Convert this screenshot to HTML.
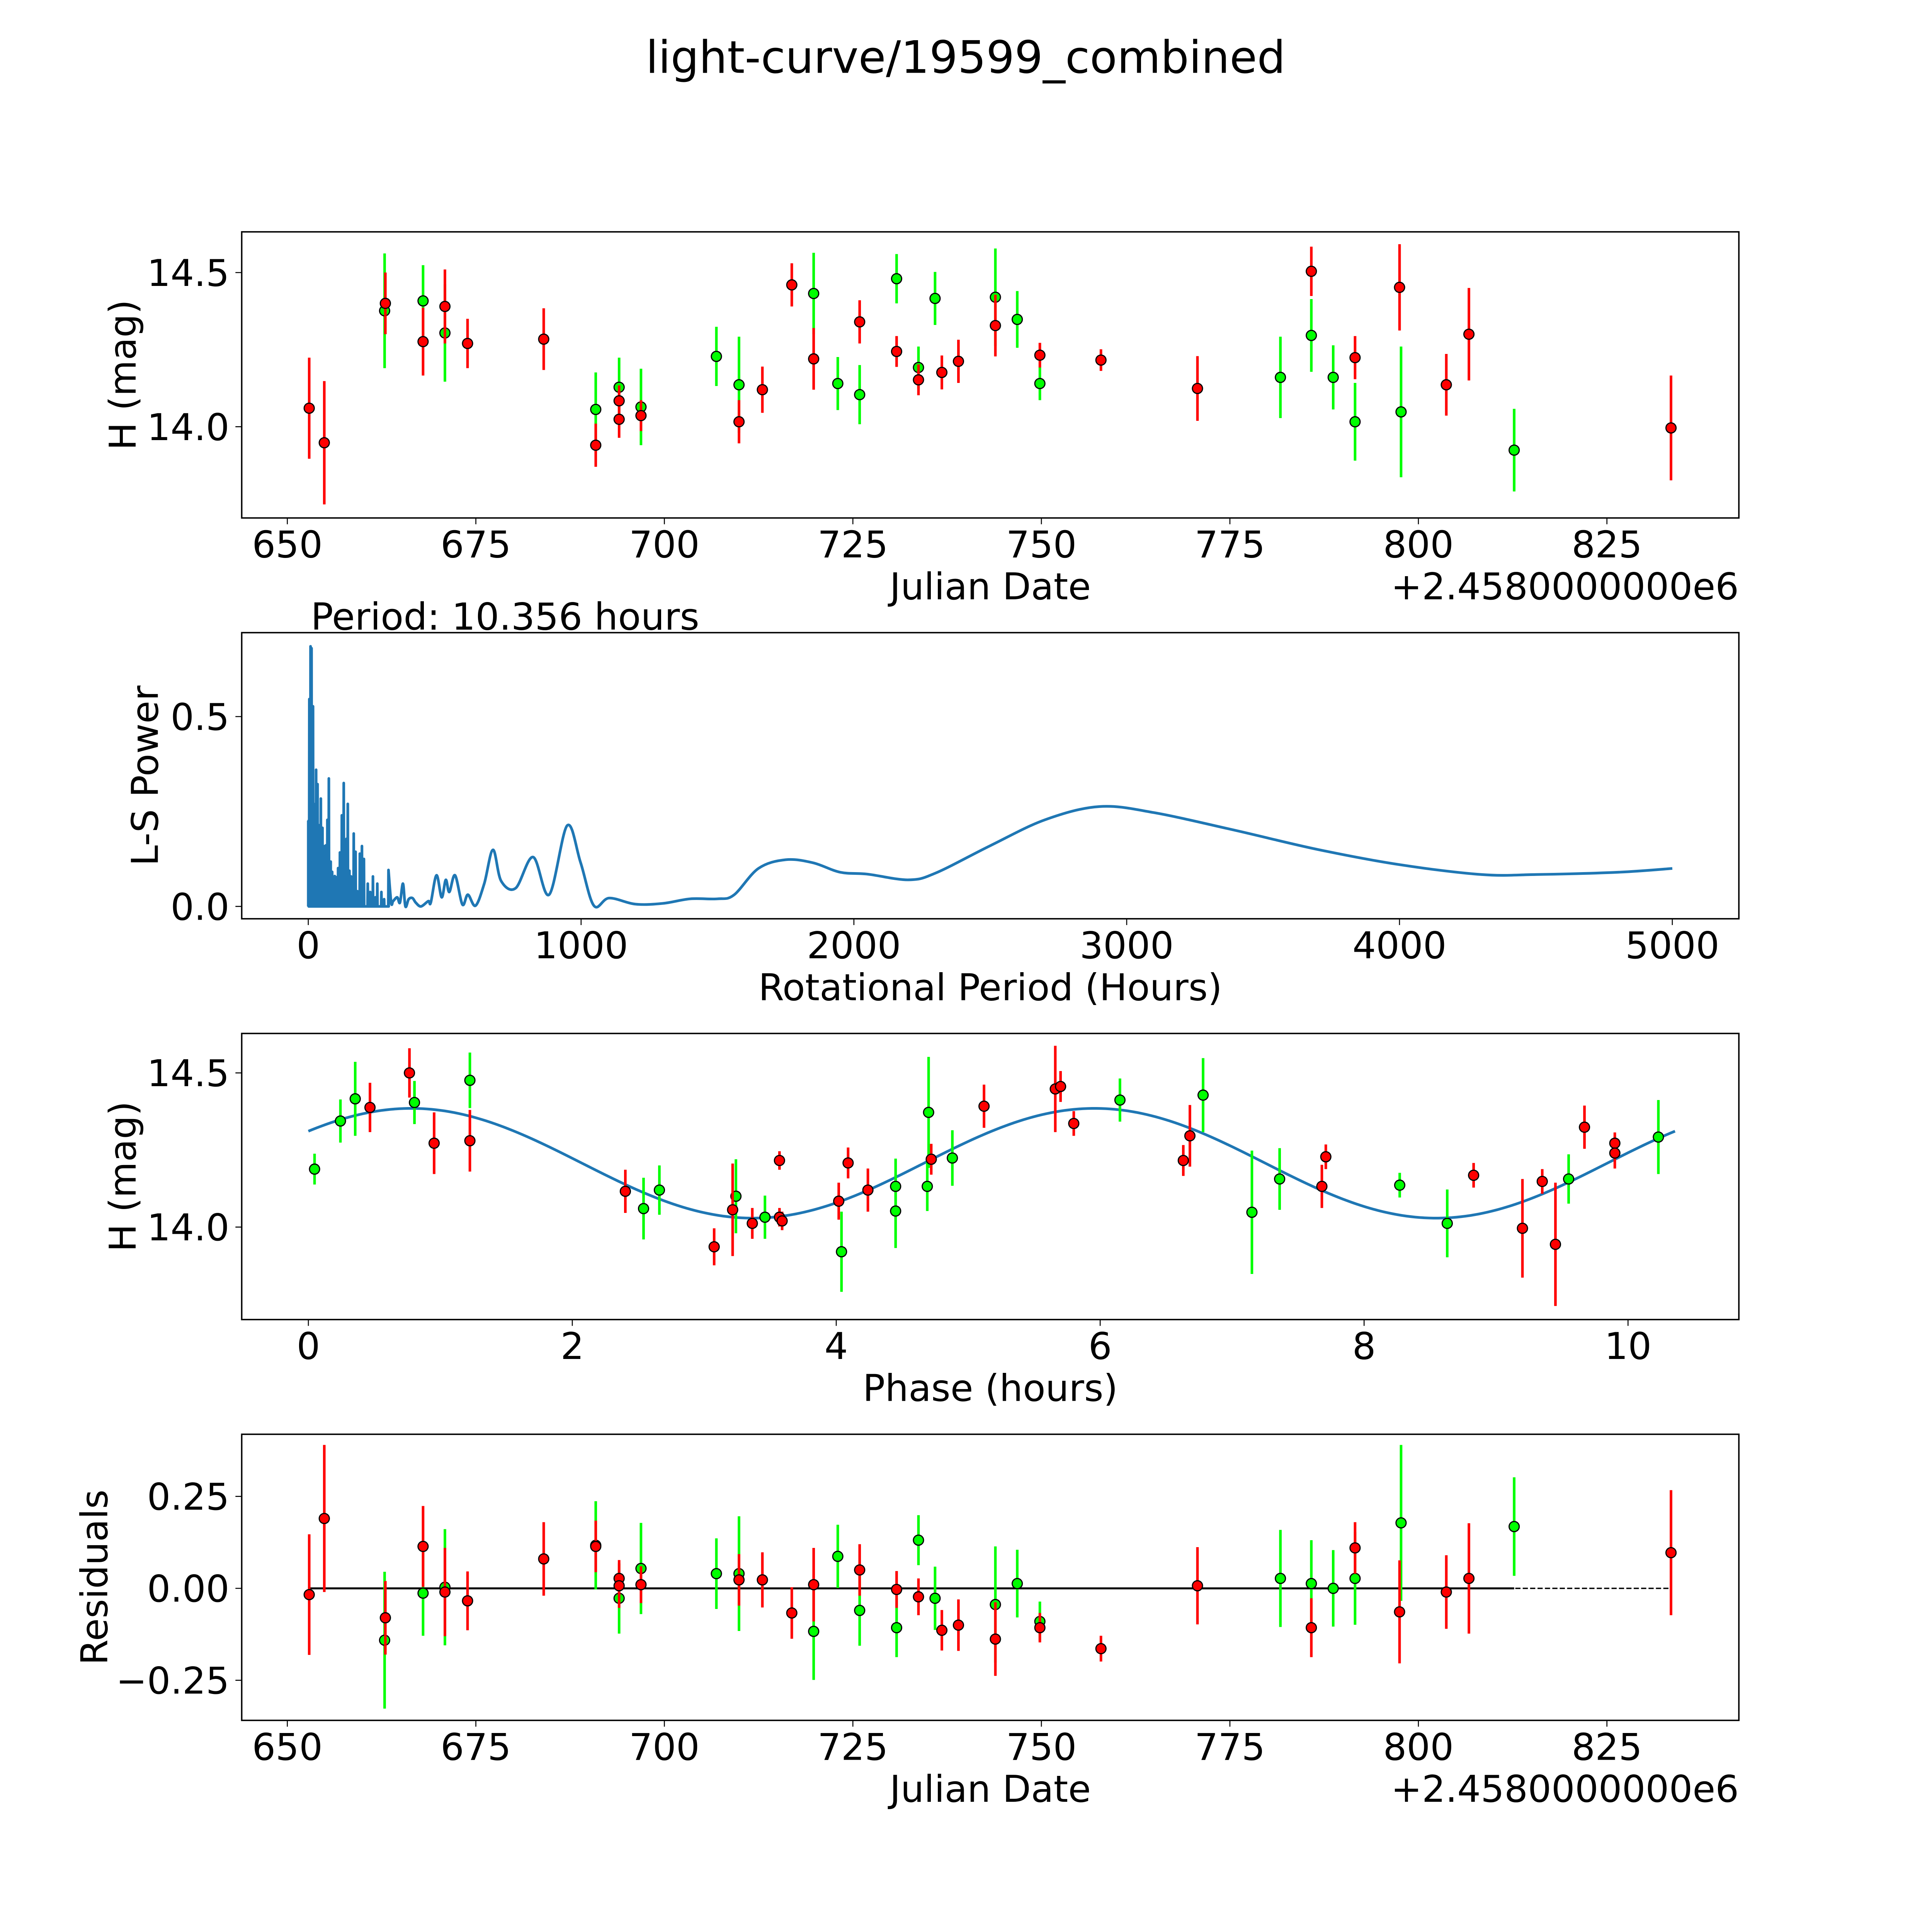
<!DOCTYPE html>
<html><head><meta charset="utf-8"><style>
html,body{margin:0;padding:0;background:#fff;overflow:hidden;}
svg{display:block;width:100vw;height:100vh;}
text{font-family:"DejaVu Sans","Liberation Sans",sans-serif;fill:#000;}
</style></head><body>
<svg id="fig" xmlns="http://www.w3.org/2000/svg" viewBox="0 0 1566.6 1566.6" preserveAspectRatio="none">
<rect x="0" y="0" width="1566.6" height="1566.6" fill="#fff"/>
<text x="783" y="59" font-size="36.2" text-anchor="middle">light-curve/19599_combined</text>
</svg>
<script>
// ---------- data ----------
const p1RedDate=[652.9,654.9,663.0,668.0,670.9,673.9,684.0,690.9,694.0,694.0,696.9,709.9,713.0,716.9,719.8,725.9,730.8,733.7,736.8,739.0,743.9,749.8,757.9,770.7,785.8,791.6,797.5,803.7,806.7,833.5];
const p1RedMag=[14.06,13.948,14.40,14.276,14.39,14.27,14.284,13.94,14.084,14.024,14.036,14.016,14.12,14.46,14.22,14.34,14.244,14.152,14.176,14.212,14.328,14.232,14.216,14.124,14.504,14.224,14.452,14.136,14.30,13.996];
const p1RedErr=[0.164,0.2,0.1,0.11,0.12,0.08,0.1,0.07,0.05,0.06,0.05,0.07,0.075,0.07,0.1,0.07,0.05,0.05,0.055,0.07,0.1,0.04,0.035,0.105,0.08,0.07,0.14,0.1,0.15,0.17];
const p1RedRes=[-0.017,0.19,-0.08,0.114,-0.01,-0.034,0.08,0.114,0.027,0.007,0.01,0.023,0.023,-0.067,0.01,0.05,-0.003,-0.023,-0.114,-0.1,-0.138,-0.107,-0.164,0.007,-0.107,0.11,-0.064,-0.01,0.027,0.097];
const p1GreenDate=[662.9,668.0,670.9,690.9,694.0,696.9,706.9,709.9,719.8,723.0,725.9,730.8,733.7,735.9,743.9,746.8,749.8,781.7,785.8,788.7,791.6,797.7,812.7];
const p1GreenMag=[14.376,14.408,14.304,14.056,14.128,14.064,14.228,14.136,14.432,14.14,14.104,14.48,14.192,14.416,14.42,14.348,14.14,14.16,14.296,14.16,14.016,14.048,13.924];
const p1GreenErr=[0.186,0.116,0.158,0.12,0.096,0.124,0.096,0.156,0.132,0.086,0.096,0.08,0.068,0.086,0.158,0.092,0.054,0.132,0.118,0.104,0.126,0.212,0.134];
const p1GreenRes=[-0.141,-0.013,0.003,0.117,-0.027,0.054,0.04,0.04,-0.117,0.087,-0.06,-0.107,0.131,-0.027,-0.044,0.013,-0.09,0.027,0.013,0,0.027,0.178,0.168];

const phRed=[0.766,0.953,0.467,1.224,2.402,3.075,3.215,3.364,3.57,3.59,3.57,4.019,4.09,4.24,4.72,5.12,5.66,5.70,5.80,6.63,6.68,7.68,7.71,8.83,9.20,9.35,9.45,9.67,9.90,9.90];
const phRedMag=[14.50,14.272,14.388,14.28,14.116,13.936,14.056,14.012,14.032,14.02,14.216,14.084,14.208,14.12,14.22,14.392,14.448,14.456,14.336,14.216,14.296,14.132,14.228,14.168,13.996,14.148,13.944,14.324,14.272,14.24];
const phRedErr=[0.08,0.1,0.08,0.1,0.07,0.06,0.15,0.05,0.03,0.03,0.03,0.06,0.05,0.07,0.05,0.07,0.14,0.05,0.04,0.05,0.1,0.07,0.04,0.04,0.16,0.04,0.2,0.07,0.035,0.05];
const phGreen=[0.047,0.243,0.355,0.804,1.224,2.54,2.66,3.24,3.46,4.04,4.45,4.45,4.69,4.70,4.88,6.15,6.78,7.15,7.36,8.27,8.63,9.55,10.23];
const phGreenMag=[14.188,14.344,14.416,14.404,14.476,14.06,14.12,14.10,14.032,13.92,14.132,14.052,14.132,14.372,14.224,14.412,14.428,14.048,14.156,14.136,14.012,14.156,14.292];
const phGreenErr=[0.05,0.07,0.12,0.07,0.09,0.1,0.08,0.12,0.07,0.13,0.09,0.12,0.08,0.18,0.09,0.07,0.12,0.2,0.1,0.04,0.11,0.08,0.12];
const fitParams=[14.207,0.178,0.78,5.178]; // mean, amplitude, peak phase, half-period
const fitRange=[0,10.356];

const spikeHours=[1.5,3.8,8.3,12,17.4,20.4,28.7,34,38.5,46,52,60,65,70,75.4,82.2,87.5,102.6,109.3,116,123,130,140,144.8,150.8,156.8,166.6,173.4,189,196.7,204,218,227,237,246,253,268,278,294];
const spikePower=[0.226,0.546,0.685,0.68,0.527,0.27,0.36,0.322,0.214,0.284,0.207,0.159,0.161,0.228,0.337,0.118,0.091,0.077,0.101,0.142,0.24,0.325,0.178,0.27,0.094,0.079,0.192,0.144,0.139,0.159,0.125,0.06,0.038,0.079,0.024,0.06,0.038,0.019,0.096];
const fillHours=[2.5,5,6.5,10,14,22,25,31,36,42,49,56,62,67,72,79,85,92,97,106,112,120,126,135,147,153,162,170,180,193,200];
const fillPower=[0.15,0.3,0.2,0.25,0.22,0.18,0.2,0.16,0.19,0.12,0.14,0.11,0.1,0.12,0.09,0.08,0.07,0.06,0.08,0.05,0.07,0.09,0.06,0.08,0.05,0.04,0.06,0.05,0.04,0.05,0.03];
const tailHours=[304,311,326,336,347,356,368,382,394,413,440,449,470,489,504,517,538,565,585,613,645,677,707,760,824,883,949,998,1047,1103,1200,1300,1400,1500,1560,1650,1750,1850,1950,2050,2200,2300,2500,2700,2900,3100,3400,3700,4000,4300,4500,4800,5000];
const tailPower=[0.01,0.014,0.024,0.01,0.06,0.0,0.019,0.022,0.01,0.0,0.014,0.01,0.082,0.024,0.07,0.038,0.082,0.005,0.031,0.002,0.06,0.149,0.067,0.048,0.13,0.031,0.213,0.116,0.002,0.022,0.006,0.008,0.02,0.02,0.03,0.1,0.123,0.115,0.09,0.085,0.07,0.088,0.16,0.228,0.263,0.247,0.2,0.15,0.11,0.084,0.084,0.09,0.1];

const p1YTicks=[14.0,14.5], p1YLabels=["14.0","14.5"];
const dateTicks=[650,675,700,725,750,775,800,825], dateLabels=["650","675","700","725","750","775","800","825"];
const lsXTicks=[0,1000,2000,3000,4000,5000], lsXLabels=["0","1000","2000","3000","4000","5000"];
const lsYTicks=[0,0.5], lsYLabels=["0.0","0.5"];
const phXTicks=[0,2,4,6,8,10], phXLabels=["0","2","4","6","8","10"];
const resYTicks=[-0.25,0,0.25], resYLabels=["\u22120.25","0.00","0.25"];

// ---------- helpers ----------
const NS='http://www.w3.org/2000/svg';
const svg=document.getElementById('fig');
const FS=30;
function mk(tag,attrs,parent){const e=document.createElementNS(NS,tag);for(const k in attrs)e.setAttribute(k,attrs[k]);(parent||svg).appendChild(e);return e;}
const L=196,R=1410,H=232;
function axis(top,x0,x1,y0,y1){return{top:top,bot:top+H,sx:v=>L+(v-x0)/(x1-x0)*(R-L),sy:v=>top+H-(v-y0)/(y1-y0)*H};}
function frame(ax,name,xt,xl,yt,yl){
  const g=mk('g',{});
  
  
  xt.forEach((t,i)=>{const x=ax.sx(t);
    mk('line',{x1:x,x2:x,y1:ax.bot,y2:ax.bot+5.1,stroke:'#000','stroke-width':0.8},g);
    const tx=mk('text',{x:x,y:ax.bot+32,'font-size':FS,'text-anchor':'middle'},g);tx.textContent=xl[i];
    
    });
  yt.forEach((t,i)=>{const y=ax.sy(t);
    mk('line',{x1:L-5.1,x2:L,y1:y,y2:y,stroke:'#000','stroke-width':0.8},g);
    const tx=mk('text',{x:L-10,y:y+10.8,'font-size':FS,'text-anchor':'end'},g);tx.textContent=yl[i];
    
    });
  return g;
}
function border(ax){mk('rect',{x:L,y:ax.top,width:R-L,height:H,fill:'none',stroke:'#000','stroke-width':1.16});}
function label(txt,x,y,name,rot,size){const t=mk('text',{x:x,y:y,'font-size':size||FS,'text-anchor':'middle'});t.textContent=txt;
  if(rot)t.setAttribute('transform','rotate(-90 '+x+' '+y+')');
  
  return t;}
function points(ax,xs,ys,es,color,name){
  const g=mk('g',{});
  
  
  xs.forEach((x,i)=>{mk('line',{x1:ax.sx(x),x2:ax.sx(x),y1:ax.sy(ys[i]-es[i]),y2:ax.sy(ys[i]+es[i]),stroke:color,'stroke-width':2.1},g);});
  xs.forEach((x,i)=>{const c=mk('circle',{cx:ax.sx(x),cy:ax.sy(ys[i]),r:4.1,fill:color,stroke:'#000','stroke-width':0.95},g);
    
    });
}
function clip(ax,id){const cp=mk('clipPath',{id:id});mk('rect',{x:L,y:ax.top,width:R-L,height:H},cp);}

// ---------- panel 1 ----------
const a1=axis(188,643.95,842.5,13.704,14.632);
frame(a1,'light-curve-axes',dateTicks,dateLabels,p1YTicks,p1YLabels);
points(a1,p1GreenDate,p1GreenMag,p1GreenErr,'#00ff00','green-series');
points(a1,p1RedDate,p1RedMag,p1RedErr,'#ff0000','red-series');
border(a1);
label('Julian Date',803,486,'x-axis-title');
label('H (mag)',110,304,'y-axis-title',true);
(function(){const t=mk('text',{x:1410,y:486,'font-size':FS,'text-anchor':'end'});t.textContent='+2.4580000000e6';

})();

// ---------- panel 2 ----------
const a2=axis(513,-244,5244,-0.0325,0.721);
frame(a2,'periodogram-axes',lsXTicks,lsXLabels,lsYTicks,lsYLabels);
clip(a2,'c2');
(function(){
  const g=mk('g',{'clip-path':'url(#c2)',fill:'none',stroke:'#1f77b4','stroke-width':2.18,'stroke-linejoin':'round'});
  
  
  let d='M'+a2.sx(0)+' '+a2.sy(0);
  const all=spikeHours.map((h,i)=>[h,spikePower[i]]).concat(fillHours.map((h,i)=>[h,fillPower[i]])).sort((a,b)=>a[0]-b[0]);
  all.forEach(([h,p])=>{d+='L'+a2.sx(h-0.8).toFixed(2)+' '+a2.sy(0).toFixed(2)+'L'+a2.sx(h).toFixed(2)+' '+a2.sy(p).toFixed(2)+'L'+a2.sx(h+0.8).toFixed(2)+' '+a2.sy(0).toFixed(2);});
  d+='L'+a2.sx(0)+' '+a2.sy(0);
  mk('path',{d:d},g);
  mk('line',{x1:a2.sx(0),x2:a2.sx(0),y1:a2.sy(0),y2:a2.sy(0.226)},g);
  const P=[[spikeHours[spikeHours.length-1],spikePower[spikePower.length-1]]].concat(tailHours.map((h,i)=>[h,tailPower[i]])).map(([h,p])=>[a2.sx(h),a2.sy(p)]);
  let t='M'+P[0][0].toFixed(2)+' '+P[0][1].toFixed(2);
  for(let i=0;i<P.length-1;i++){const p0=P[Math.max(0,i-1)],p1=P[i],p2=P[i+1],p3=P[Math.min(P.length-1,i+2)];
    const c1=[p1[0]+(p2[0]-p0[0])/6,p1[1]+(p2[1]-p0[1])/6],c2=[p2[0]-(p3[0]-p1[0])/6,p2[1]-(p3[1]-p1[1])/6];
    t+='C'+c1[0].toFixed(2)+' '+c1[1].toFixed(2)+' '+c2[0].toFixed(2)+' '+c2[1].toFixed(2)+' '+p2[0].toFixed(2)+' '+p2[1].toFixed(2);}
  mk('path',{d:t},g);
})();
border(a2);
(function(){const t=mk('text',{x:a2.sx(0)+2,y:510.6,'font-size':30.3});t.textContent='Period: 10.356 hours';

})();
label('Rotational Period (Hours)',803,811,'x-axis-title');
label('L-S Power',128,629,'y-axis-title',true);

// ---------- panel 3 ----------
const a3=axis(838,-0.505,10.84,13.7,14.628);
frame(a3,'phase-axes',phXTicks,phXLabels,p1YTicks,p1YLabels);
(function(){const [m,A,p0,P]=fitParams;let d='';const n=300;
for(let i=0;i<=n;i++){const ph=fitRange[0]+(fitRange[1]-fitRange[0])*i/n;const v=m+A*Math.cos(2*Math.PI*(ph-p0)/P);
d+=(i?'L':'M')+a3.sx(ph).toFixed(2)+' '+a3.sy(v).toFixed(2);}
const p=mk('path',{d:d,fill:'none',stroke:'#1f77b4','stroke-width':2.18});

})();
points(a3,phGreen,phGreenMag,phGreenErr,'#00ff00','green-phase-series');
points(a3,phRed,phRedMag,phRedErr,'#ff0000','red-phase-series');
border(a3);
label('Phase (hours)',803,1136,'x-axis-title');
label('H (mag)',110,954,'y-axis-title',true);

// ---------- panel 4 ----------
const a4=axis(1163,643.95,842.5,-0.359,0.419);
frame(a4,'residuals-axes',dateTicks,dateLabels,resYTicks,resYLabels);
(function(){const y=a4.sy(0);
const l1=mk('line',{x1:a4.sx(652.9),x2:a4.sx(833.5),y1:y,y2:y,stroke:'#000','stroke-width':1.1,'stroke-dasharray':'4.2 1.8'});


const l2=mk('line',{x1:a4.sx(652.9),x2:a4.sx(812.7),y1:y,y2:y,stroke:'#000','stroke-width':1.6});

})();
points(a4,p1GreenDate,p1GreenRes,p1GreenErr,'#00ff00','green-residuals');
points(a4,p1RedDate,p1RedRes,p1RedErr,'#ff0000','red-residuals');
border(a4);
label('Julian Date',803,1461,'x-axis-title');
label('Residuals',87,1279,'y-axis-title',true);
(function(){const t=mk('text',{x:1410,y:1461,'font-size':FS,'text-anchor':'end'});t.textContent='+2.4580000000e6';

})();
</script>
</body></html>
